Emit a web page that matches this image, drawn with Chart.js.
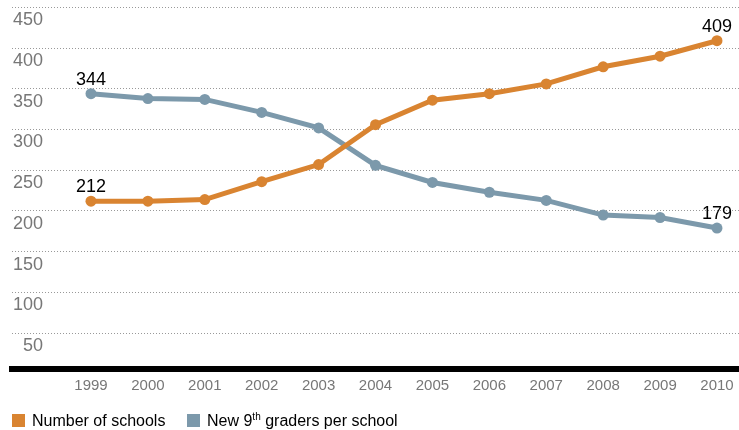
<!DOCTYPE html>
<html>
<head>
<meta charset="utf-8">
<script src="https://cdn.jsdelivr.net/npm/chart.js@4"></script>
<style>
    body { margin: 0; background: #fff; }
    #wrap { position: relative; width: 739px; height: 430px; }
    .legend { position: absolute; top: 412px; left: 12px; font: 16px "Liberation Sans", Arial, sans-serif; color: #000; }
    .legend span.item { position: absolute; top: 0; white-space: nowrap; }
    .legend i { display: inline-block; width: 13px; height: 13px; vertical-align: -1px; margin-right: 7px; }
    .legend sup { font-size: 10px; vertical-align: 6px; line-height: 0; }
</style>
</head>
<body>
<div id="wrap">
    <canvas id="chart" width="739" height="430"></canvas>
    <div class="legend">
        <span class="item" style="left:0"><i style="background:#d98431"></i>Number of schools</span>
        <span class="item" style="left:175px"><i style="background:#7c99ab"></i>New 9<sup>th</sup> graders per school</span>
    </div>
</div>
<script>
const years = [1999, 2000, 2001, 2002, 2003, 2004, 2005, 2006, 2007, 2008, 2009, 2010]
const schools = [212, 212, 214, 236, 257, 306, 336, 344, 356, 377, 390, 409]
const graders = [344, 338, 337, 321, 302, 256, 235, 223, 213, 195, 192, 179]
const yTicks = [50, 100, 150, 200, 250, 300, 350, 400, 450]

const orange = "#d98431"
const blue = "#7c99ab"

function points(values) {
    return values.map((v, i) => ({ x: years[i], y: v }))
}

// value labels on first and last point of each line
const endLabels = {
    id: "endLabels",
    afterDatasetsDraw(chart) {
        const ctx = chart.ctx
        ctx.save()
        ctx.font = "18px 'Liberation Sans', Arial, sans-serif"
        ctx.fillStyle = "#000"
        ctx.textAlign = "center"
        ctx.textBaseline = "middle"
        chart.data.datasets.forEach((ds, i) => {
            const meta = chart.getDatasetMeta(i)
            const last = meta.data.length - 1
            ;[0, last].forEach(j => {
                const el = meta.data[j]
                ctx.fillText(ds.data[j].y, el.x, el.y - 14)
            })
        })
        ctx.restore()
    }
}

function noPadding(axis) {
    axis.paddingTop = 0
    axis.paddingBottom = 0
    axis.paddingLeft = 0
    axis.paddingRight = 0
}

new Chart(document.getElementById("chart"), {
    type: "line",
    data: {
        datasets: [
            {
                label: "Number of schools",
                data: points(schools),
                borderColor: orange,
                backgroundColor: orange,
                borderWidth: 5,
                pointRadius: 5.5,
                pointBorderWidth: 0,
                pointBackgroundColor: orange
            },
            {
                label: "New 9th graders per school",
                data: points(graders),
                borderColor: blue,
                backgroundColor: blue,
                borderWidth: 5,
                pointRadius: 5.5,
                pointBorderWidth: 0,
                pointBackgroundColor: blue
            }
        ]
    },
    options: {
        responsive: false,
        animation: false,
        layout: { autoPadding: false, padding: { left: 12, right: 0, top: 0, bottom: 35 } },
        plugins: {
            legend: { display: false },
            tooltip: { enabled: false }
        },
        scales: {
            x: {
                type: "linear",
                min: 1997.612,
                max: 2010.387,
                afterFit: noPadding,
                grid: { display: false },
                border: { display: true, color: "#000", width: 6 },
                ticks: {
                    stepSize: 1,
                    includeBounds: false,
                    padding: 0,
                    color: "#777",
                    font: { family: "'Liberation Sans', Arial, sans-serif", size: 15 },
                    callback: v => years.includes(v) ? String(v) : ""
                }
            },
            y: {
                min: 6,
                max: 459,
                afterFit: axis => { noPadding(axis); axis.width = 0 },
                afterBuildTicks: axis => { axis.ticks = yTicks.map(v => ({ value: v })) },
                grid: { color: "#999", lineWidth: 1, drawTicks: false },
                border: { display: false, dash: [1, 2] },
                ticks: {
                    mirror: true,
                    crossAlign: "far",
                    padding: 1,
                    labelOffset: 13,
                    color: "#777",
                    font: { family: "'Liberation Sans', Arial, sans-serif", size: 18 }
                }
            }
        }
    },
    plugins: [endLabels]
})
</script>
</body>
</html>
